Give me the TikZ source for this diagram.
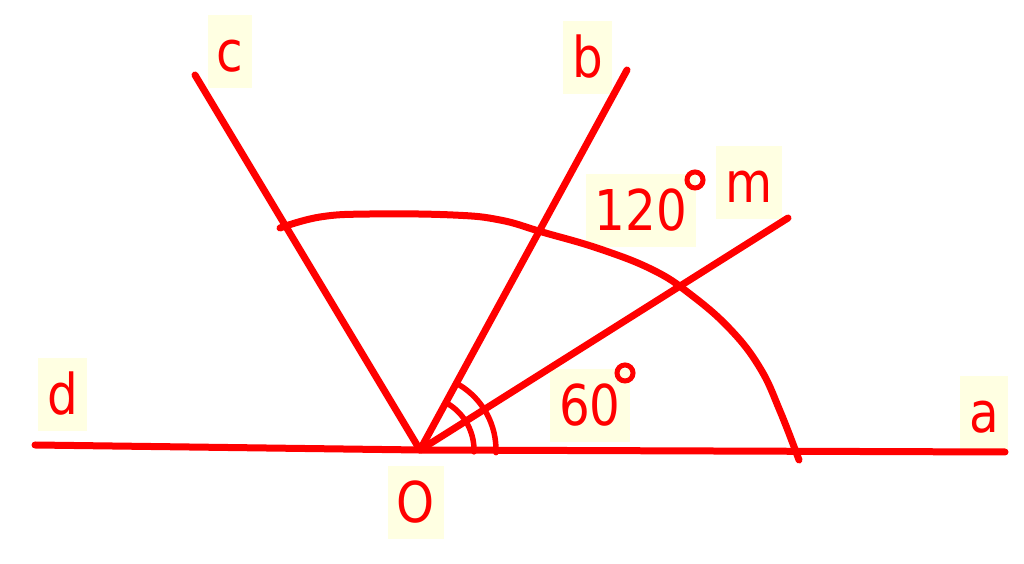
\documentclass[tikz,border=0pt]{standalone}
\usepackage{fontspec}
\setmainfont[FakeStretch=0.86]{DejaVu Sans}
\usepackage{tikz}
\usetikzlibrary{positioning}
\definecolor{penred}{RGB}{255,0,0}
\definecolor{notepad}{RGB}{255,255,226}

\begin{document}
\begin{tikzpicture}[x=0.02cm, y=0.02cm,
	every node/.style = {text=penred, fill=notepad, anchor=base,
		inner xsep=0.18cm, inner ysep=0pt, text height=1.14cm, text depth=0.33cm,
		font=\fontsize{32}{38}\selectfont},
	ray/.style = {draw=penred, line width=0.14cm, line cap=round},
	degring/.style = {draw=penred, line width=0.1cm}]
	
	\useasboundingbox (0,0) rectangle (1024,564);
	
	% labels
	\node (lc)   at (230,492)   {c};
	\node (lb)   at (587.5,486) {b};
	\node (lm)   at (749,361)   {m};
	\node (l120) at (641,333)   {120};
	\node (l60)  at (590,138)   {60};
	\node (lO)   at (416,41)    {O};
	\node (ld)   at (62.5,149)  {d};
	\node (la)   at (984,131)   {a};
	
	% degree signs
	\draw[degring] (695,384) circle (8);
	\draw[degring] (625,191) circle (8);
	
	% rays from O
	\coordinate (O) at (420,114);
	\coordinate (A) at (1005,112);
	\coordinate (D) at (35,119);
	\coordinate (C) at (195,489);
	\coordinate (B) at (627,494);
	\coordinate (M) at (788,346);
	\draw[ray] (D) -- (O) -- (A);
	\draw[ray] (O) -- (C);
	\draw[ray] (O) -- (B);
	\draw[ray] (O) -- (M);
	
	% big arc (free hand)
	\draw[ray] plot[smooth, tension=0.7] coordinates {(280,336) (320,347) (370,350)
		(453,349) (500,344) (542,332) (600,315) (653,294)
		(690,270) (730,235) (760,196) (780,153) (799,104)};
	
	% double mark of the angle aOb
	\draw[ray, line width=0.11cm] ([shift={(-2:54)}]O) arc[start angle=-2, end angle=58, radius=54];
	\draw[ray, line width=0.11cm] ([shift={(-2:76)}]O) arc[start angle=-2, end angle=59, radius=76];
\end{tikzpicture}
\end{document}
